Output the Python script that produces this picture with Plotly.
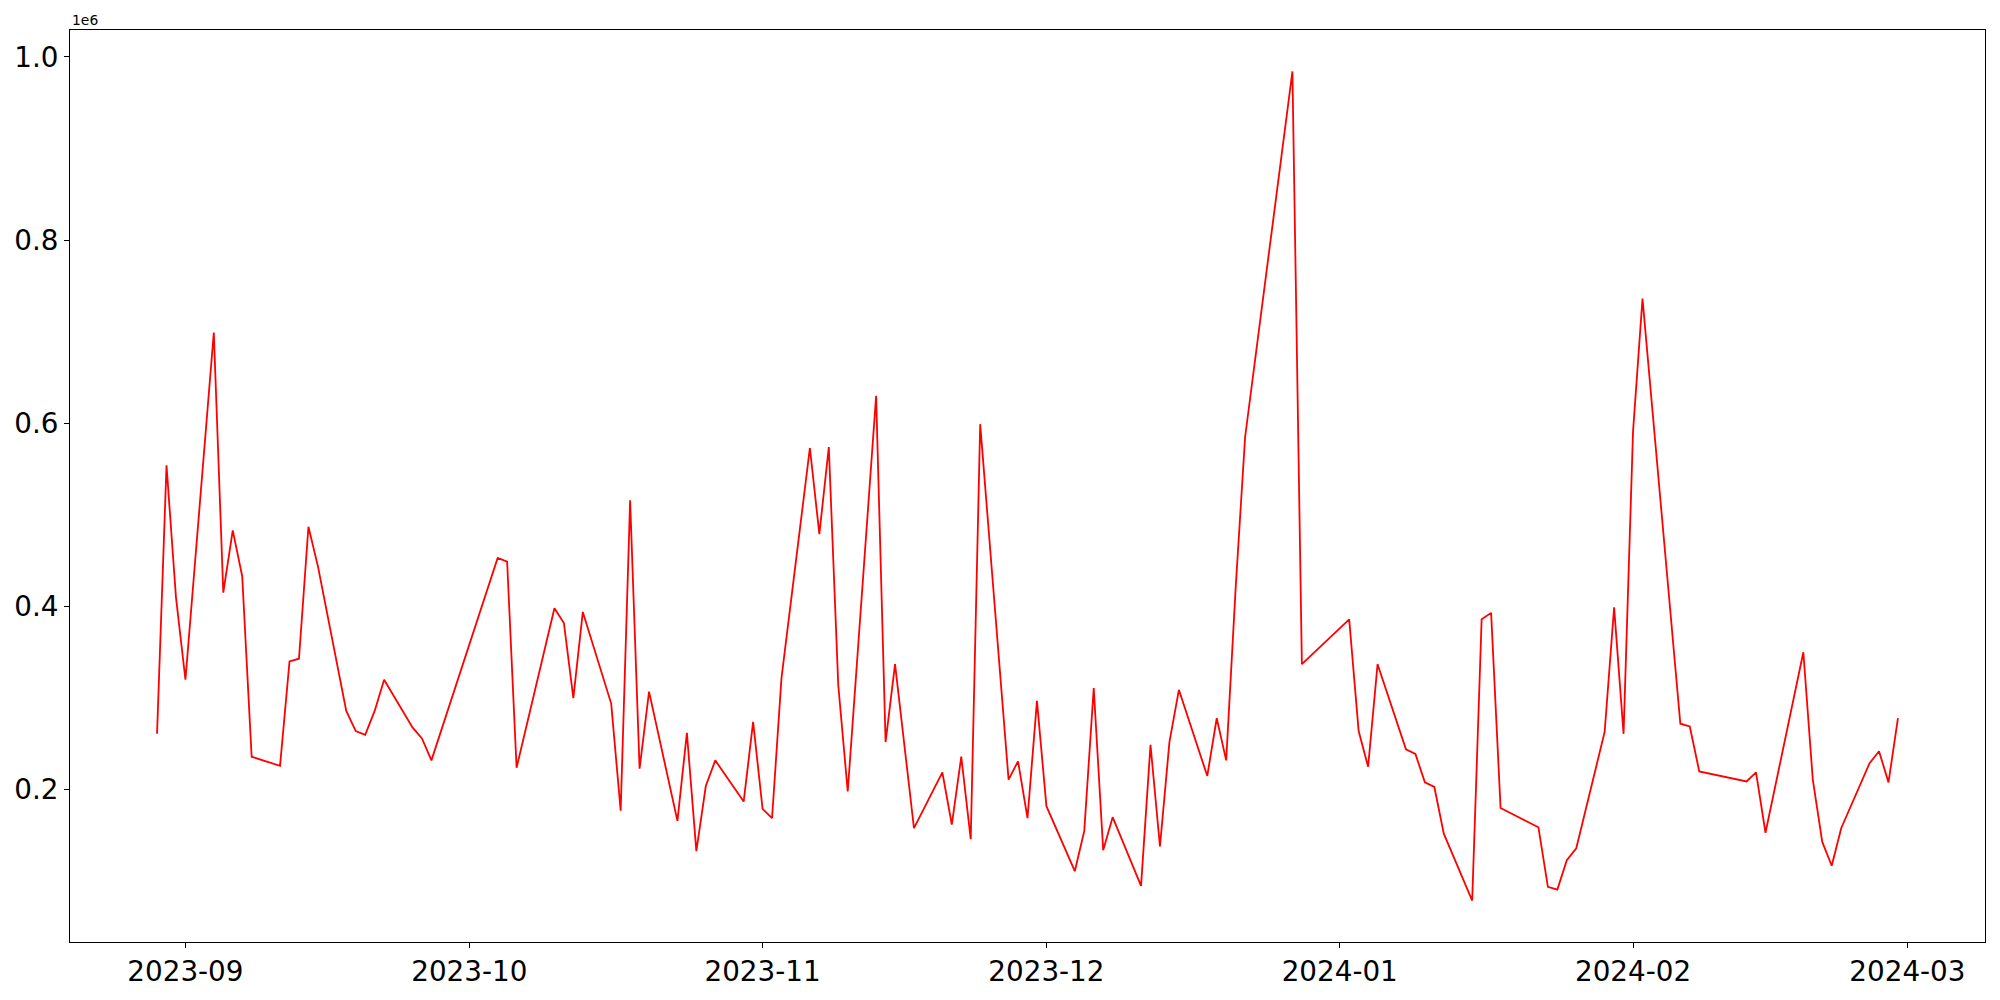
import pandas as pd
import plotly.graph_objects as go

# daily values, scaled by 1e6 on the axis
dates = [
    "2023-08-29", "2023-08-30", "2023-08-31", "2023-09-01", "2023-09-04", "2023-09-05",
    "2023-09-06", "2023-09-07", "2023-09-08", "2023-09-11", "2023-09-12", "2023-09-13",
    "2023-09-14", "2023-09-15", "2023-09-18", "2023-09-19", "2023-09-20", "2023-09-21",
    "2023-09-22", "2023-09-25", "2023-09-26", "2023-09-27", "2023-10-04", "2023-10-05",
    "2023-10-06", "2023-10-10", "2023-10-11", "2023-10-12", "2023-10-13", "2023-10-16",
    "2023-10-17", "2023-10-18", "2023-10-19", "2023-10-20", "2023-10-23", "2023-10-24",
    "2023-10-25", "2023-10-26", "2023-10-27", "2023-10-30", "2023-10-31", "2023-11-01",
    "2023-11-02", "2023-11-03", "2023-11-06", "2023-11-07", "2023-11-08", "2023-11-09",
    "2023-11-10", "2023-11-13", "2023-11-14", "2023-11-15", "2023-11-17", "2023-11-20",
    "2023-11-21", "2023-11-22", "2023-11-23", "2023-11-24", "2023-11-27", "2023-11-28",
    "2023-11-29", "2023-11-30", "2023-12-01", "2023-12-04", "2023-12-05", "2023-12-06",
    "2023-12-07", "2023-12-08", "2023-12-11", "2023-12-12", "2023-12-13", "2023-12-14",
    "2023-12-15", "2023-12-18", "2023-12-19", "2023-12-20", "2023-12-21", "2023-12-22",
    "2023-12-27", "2023-12-28", "2024-01-02", "2024-01-03", "2024-01-04", "2024-01-05",
    "2024-01-08", "2024-01-09", "2024-01-10", "2024-01-11", "2024-01-12", "2024-01-15",
    "2024-01-16", "2024-01-17", "2024-01-18", "2024-01-22", "2024-01-23", "2024-01-24",
    "2024-01-25", "2024-01-26", "2024-01-29", "2024-01-30", "2024-01-31", "2024-02-01",
    "2024-02-02", "2024-02-06", "2024-02-07", "2024-02-08", "2024-02-13", "2024-02-14",
    "2024-02-15", "2024-02-19", "2024-02-20", "2024-02-21", "2024-02-22", "2024-02-23",
    "2024-02-26", "2024-02-27", "2024-02-28", "2024-02-29",
]
values = [
    261000, 554000, 410000, 320000, 699000, 415000,
    483000, 433000, 236000, 226000, 340000, 343000,
    487000, 444000, 286000, 264000, 260000, 286000,
    320000, 268000, 256000, 232000, 453000, 449000,
    224000, 398000, 382000, 300000, 394000, 294000,
    177000, 516000, 223000, 307000, 166000, 262000,
    133000, 204000, 232000, 187000, 274000, 179000,
    169000, 322000, 573000, 479000, 574000, 314000,
    198000, 630000, 252000, 337000, 158000, 219000,
    162000, 236000, 146000, 599000, 211000, 231000,
    169000, 297000, 182000, 111000, 155000, 311000,
    134000, 170000, 95000, 249000, 138000, 252000,
    309000, 215000, 278000, 232000, 420000, 585000,
    984000, 337000, 386000, 264000, 225000, 337000,
    244000, 239000, 208000, 203000, 152000, 79000,
    386000, 393000, 180000, 159000, 94000, 91000,
    123000, 136000, 263000, 399000, 261000, 591000,
    736000, 272000, 269000, 220000, 209000, 219000,
    153000, 350000, 211000, 143000, 117000, 158000,
    229000, 242000, 208000, 278000,
]

month_ticks = ["2023-09-01", "2023-10-01", "2023-11-01", "2023-12-01",
               "2024-01-01", "2024-02-01", "2024-03-01"]
y_ticks = [200000, 400000, 600000, 800000, 1000000]
y_ticktext = ["0.2", "0.4", "0.6", "0.8", "1.0"]

x = pd.to_datetime(dates)

# matplotlib-like 5% margins
xpad = (x.max() - x.min()) * 0.05
ypad = (max(values) - min(values)) * 0.05

fig = go.Figure()
fig.add_trace(go.Scatter(x=x, y=values, mode='lines',
                         line=dict(color='red', width=1.8)))

font = dict(family="DejaVu Sans", size=27.8, color='black')

fig.update_layout(width=2000, height=1000,
                  margin=dict(l=70, r=15, t=30, b=53),
                  paper_bgcolor='white',
                  plot_bgcolor='white',
                  showlegend=False,
                  font=font,
                  )

fig.update_xaxes(range=[x.min() - xpad, x.max() + xpad],
                 tickvals=pd.to_datetime(month_ticks),
                 tickformat='%Y-%m',
                 ticks='outside', ticklen=5, tickwidth=1, tickcolor='black',
                 showline=True, linecolor='black', linewidth=1, mirror=True,
                 showgrid=False, zeroline=False)

fig.update_yaxes(range=[min(values) - ypad, max(values) + ypad],
                 tickvals=y_ticks, ticktext=y_ticktext,
                 ticks='outside', ticklen=5, tickwidth=1, tickcolor='black',
                 showline=True, linecolor='black', linewidth=1, mirror=True,
                 showgrid=False, zeroline=False)

# offset label like matplotlib's scientific notation
fig.add_annotation(text="1e6", xref='paper', yref='paper', x=0, y=1,
                   xanchor='left', yanchor='bottom', showarrow=False,
                   font=dict(family="DejaVu Sans", size=13.9, color='black'))

# drop the default body margin so the figure sits at the page origin
fig.write_html("out.html", config={'displayModeBar': False},
               post_script="document.body.style.margin='0';")
